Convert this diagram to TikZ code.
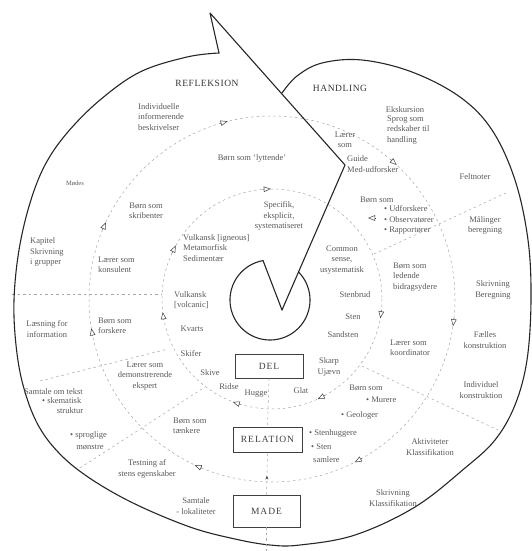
\documentclass[tikz,border=0pt]{standalone}
\usepackage{fontspec}
\setmainfont{Liberation Serif}
\usetikzlibrary{arrows.meta,decorations.markings}
\begin{document}
\begin{tikzpicture}[x=1pt,y=-1pt,
  outline/.style={line width=1.1pt,draw=black!85,line join=round,line cap=round},
  ring/.style={draw=black!35,line width=0.5pt,dash pattern=on 2.5pt off 3pt},
  txt/.style={font=\fontsize{8.5}{10.2}\selectfont,text=black!65,inner sep=0pt,align=center},
  ltxt/.style={txt,align=left,anchor=west},
  head/.style={font=\fontsize{9.5}{11}\selectfont\addfontfeature{LetterSpace=6},text=black!80,inner sep=0pt},
  box/.style={draw=black!75,line width=0.8pt,font=\fontsize{9.5}{11}\selectfont\addfontfeature{LetterSpace=10},text=black!75,inner sep=0pt},
  tri/.style={line width=0.5pt,draw=black!75,-{Triangle[length=7pt,width=5.5pt,fill=white]}}
]
\useasboundingbox (0,0) rectangle (532,551);

% dashed rings and radial lines
\draw[ring] (272,299) circle[radius=110];
\draw[ring] (272,299) circle[radius=183];
\draw[ring] (12,294) -- (162,294);
\draw[ring] (40,381) -- (168,349);
\draw[ring] (80,468) -- (205,387);
\draw[ring] (362,366) -- (498,430);
\draw[ring] (374,254) -- (508,192);

% spiral outline
\draw[outline] (282,310) -- (345,165) -- (210,13) -- (219,53);
\draw[outline] plot[smooth,tension=0.6] coordinates {(219,53) (187,57) (140,72) (100,100) (67,133) (45,165) (30,203) (19,250) (14,300) (16,345) (23,385) (37,423) (58,452) (88,477) (133,503) (190,527) (235,539) (270,545) (300,545) (355,535) (415,507) (465,468) (495,440) (515,405) (527,360) (531,300) (528,240) (515,180) (492,130) (460,97) (412,72) (362,60) (322,63) (297,76) (282,93)};
\draw[outline] (282,310) -- (263.05,260.6);
\draw[outline,domain=100:405,samples=80] plot ({270+40*cos(\x)},{300-40*sin(\x)});

% direction triangles
\draw[tri] (262.8,189.3) -- (270.8,188.9);
\draw[tri] (172.2,252.7) -- (175.8,245.5);
\draw[tri] (163.9,320.2) -- (162.7,312.2);
\draw[tri] (381.5,310.3) -- (380.3,318.3);
\draw[tri] (324.9,395.5) -- (317.7,399.1);
\draw[tri] (240.4,404.5) -- (232.8,401.9);
\draw[tri] (219.8,123.5) -- (227.6,121.3);
\draw[tri] (390.7,159.6) -- (396.7,165);
\draw[tri] (454,318.2) -- (453,326.2);
\draw[tri] (361.7,458.5) -- (354.7,462.3);
\draw[tri] (202.1,468.2) -- (194.7,465);
\draw[tri] (92.8,336.2) -- (91.4,328.4);
\draw[tri] (102.6,229.7) -- (105.8,222.3);
\draw[tri] (376,218) -- (368,218);

% boxes
\node[box,minimum width=68pt,minimum height=24pt] (del) at (269,366) {DEL};
\node[box,minimum width=69pt,minimum height=25pt] (rel) at (267.5,439.5) {RELATION};
\node[box,minimum width=67pt,minimum height=32pt] (made) at (266.5,511) {MADE};
\coordinate (bottomend) at (266.5,551);
\draw[ring] (del.south) -- (rel.north);
\draw[ring,postaction={decorate},decoration={markings,mark=at position 0.45 with {\arrow[black!70]{Stealth[length=4pt,width=3pt]}}}] (made.north) -- (rel.south);
\draw[ring] (made.south) -- (bottomend);

% headings
\node[head] (refl) at (207,83) {REFLEKSION};
\node[head] (hand) at (340,88) {HANDLING};

% texts
\node[ltxt] (indiv) at (138,117) {Individuelle\\informerende\\beskrivelser};
\node[txt,font=\fontsize{6.5}{8}\selectfont] (modes) at (75,183) {Mødes};
\node[txt] (lytt) at (252,158) {Børn som ‘lyttende’};
\node[txt] (laerer) at (345,140) {Lærer\\som};
\node[ltxt] (guide) at (347,164) {Guide\\Med-udforsker};
\node[txt] (eksk) at (405,110) {Ekskursion};
\node[ltxt] (sprog) at (387,130) {Sprog som\\redskaber til\\handling};
\node[txt] (felt) at (475,177) {Feltnoter};
\node[txt] (spec) at (279,216) {Specifik,\\eksplicit,\\systematiseret};
\node[txt] (skrib) at (146,211) {Børn som\\skribenter};
\node[ltxt] (kap) at (30,252) {Kapitel\\Skrivning\\i grupper};
\node[ltxt] (kons) at (98,265) {Lærer som\\konsulent};
\node[ltxt] (vulk) at (183,248) {Vulkansk {[}igneous{]}\\Metamorfisk\\Sedimentær};
\node[ltxt] (vulk2) at (174,300) {Vulkansk\\{[}volcanic{]}};
\node[txt] (kvarts) at (192,329) {Kvarts};
\node[txt] (skifer) at (191,354) {Skifer};
\node[txt] (skive) at (210,373) {Skive};
\node[txt] (ridse) at (229,387) {Ridse};
\node[txt] (hugge) at (256,394) {Hugge};
\node[txt] (glat) at (301,391) {Glat};
\node[txt] (skarp) at (329,367) {Skarp\\Ujævn};
\node[txt] (stenbrud) at (355,295) {Stenbrud};
\node[txt] (sten) at (353,317) {Sten};
\node[txt] (sandsten) at (343,335) {Sandsten};
\node[txt] (common) at (342,260) {Common\\sense,\\usystematisk};
\node[ltxt] (bsu) at (360,200) {Børn som};
\node[ltxt] (udf) at (384,220) {• Udforskere\\• Observatører\\• Rapportører};
\node[txt] (maal) at (485,225) {Målinger\\beregning};
\node[ltxt] (bidrag) at (393,277) {Børn som\\ledende\\bidragsydere};
\node[txt] (skrivb) at (493,290) {Skrivning\\Beregning};
\node[txt] (faelles) at (485,340) {Fælles\\konstruktion};
\node[ltxt] (koord) at (390,348) {Lærer som\\koordinator};
\node[txt] (indk) at (481,390) {Individuel\\konstruktion};
\node[txt] (bsm) at (366,388) {Børn som};
\node[ltxt] (murere) at (366,400) {• Murere};
\node[ltxt] (geolog) at (341,415) {• Geologer};
\node[ltxt] (sthug) at (309,433) {• Stenhuggere};
\node[ltxt] (stsam) at (311,447) {• Sten};
\node[ltxt] (samlere) at (313,460) {samlere};
\node[txt] (aktiv) at (430,447) {Aktiviteter\\Klassifikation};
\node[txt] (skrivk) at (393,498) {Skrivning\\Klassifikation};
\node[txt] (samlok) at (196,506) {Samtale\\- lokaliteter};
\node[txt] (test) at (147,469) {Testning af\\stens egenskaber};
\node[ltxt] (taenk) at (173,426) {Børn som\\tænkere};
\node[ltxt] (samtek) at (24,392) {Samtale om tekst};
\node[ltxt] (skem) at (42,401) {• skematisk};
\node[txt] (strukt) at (70,411) {struktur};
\node[ltxt] (sprogl) at (70,435) {• sproglige};
\node[txt] (monst) at (90,447) {mønstre};
\node[txt] (demo) at (145,376) {Lærer som\\demonstrerende\\ekspert};
\node[txt] (laes) at (47,329) {Læsning for\\information};
\node[ltxt] (forsk) at (98,326) {Børn som\\forskere};
\end{tikzpicture}
\end{document}
